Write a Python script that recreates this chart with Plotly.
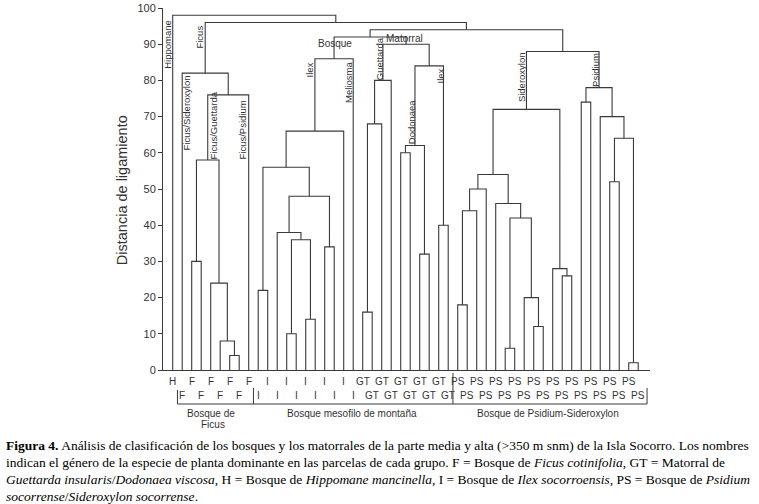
import plotly.graph_objects as go

# ---------------- data ----------------
leaf_labels = (["H"] + ["F"] * 8 + ["I"] * 11 + ["GT"] * 10 + ["PS"] * 20)

# merges: children refer to leaves "L<n>" (1-based) or earlier merges "N<k>" (1-based)
merge_left = ["L7", "N1", "L5", "L3", "N4", "N5", "L2",
              "L10", "L13", "L15", "N9", "L12", "L17", "N12", "N8", "N15", "N16",
              "L21", "N18", "N19", "L25", "L27", "N21", "L29", "N23", "N20", "N17",
              "L31", "N28", "N29", "L36", "L39", "L38", "N31", "L35", "N30", "L42", "L41", "N36",
              "L44", "L47", "L49", "N41", "L46", "N40", "N39",
              "N27", "N7", "L1"]
merge_right = ["L8", "L6", "N2", "L4", "N3", "L9", "N6",
               "L11", "L14", "L16", "N10", "N11", "L18", "N13", "N14", "L19", "L20",
               "L22", "L23", "L24", "L26", "L28", "N22", "L30", "N24", "N25", "N26",
               "L32", "L33", "L34", "L37", "L40", "N32", "N33", "N34", "N35", "L43", "N37", "N38",
               "L45", "L48", "L50", "N42", "N43", "N44", "N45",
               "N46", "N47", "N48"]
merge_height = [4, 8, 24, 30, 58, 76, 82,
                22, 10, 14, 36, 38, 34, 48, 56, 66, 86,
                16, 68, 80, 60, 32, 62, 40, 84, 90, 92,
                18, 44, 50, 6, 12, 20, 42, 46, 54, 26, 28, 72,
                74, 52, 2, 64, 70, 78, 88,
                94, 96, 98]

y_ticks = [0, 10, 20, 30, 40, 50, 60, 70, 80, 90, 100]

branch_names = ["Hippomane", "Ficus", "Ficus/Sideroxylon", "Ficus/Guettarda", "Ficus/Psidium",
                "Ilex", "Meliosma", "Guettarda", "Dodonaea", "Ilex", "Sideroxylon", "Psidium"]
branch_x = [0.5, 3.87, 2.45, 5.19, 8.35, 15.4, 19.56, 22.77, 26.14, 29.14, 37.66, 45.56]
branch_y = [90.1, 92.1, 71.0, 67.4, 66.3, 82.9, 79.3, 86.0, 68.6, 81.1, 80.9, 82.9]

flat_names = ["Bosque", "Matorral"]
flat_x = [18.08, 25.4]
flat_y = [90.2, 91.6]

group_names = ["Bosque de", "Ficus", "Bosque mesofilo de montaña", "Bosque de Psidium-Sideroxylon"]
group_x = [5.0, 5.2, 19.87, 40.5]
group_ypx = [413, 425, 413, 413]
group_bounds = [1.5, 9.5, 30.5, 50.93]

caption_lines = [
    "<b>Figura 4.</b> Análisis de clasificación de los bosques y los matorrales de la parte media y alta (&gt;350 m snm) de la Isla Socorro. Los nombres",
    "indican el género de la especie de planta dominante en las parcelas de cada grupo. F = Bosque de <i>Ficus cotinifolia</i>, GT = Matorral de",
    "<i>Guettarda insularis</i>/<i>Dodonaea viscosa</i>, H = Bosque de <i>Hippomane mancinella</i>, I = Bosque de <i>Ilex socorroensis</i>, PS = Bosque de <i>Psidium</i>",
    "<i>socorrense</i>/<i>Sideroxylon socorrense</i>.",
]

# ---------------- geometry from the tree ----------------
pos = {}
hgt = {}
for i in range(len(leaf_labels)):
    pos["L%d" % (i + 1)] = i + 1
    hgt["L%d" % (i + 1)] = 0
xs, ys = [], []
for k, (a, b, h) in enumerate(zip(merge_left, merge_right, merge_height)):
    xa, xb = pos[a], pos[b]
    xs += [xa, xa, xb, xb, None]
    ys += [hgt[a], h, h, hgt[b], None]
    name = "N%d" % (k + 1)
    pos[name] = (xa + xb) / 2
    hgt[name] = h

XMIN, XMAX = -0.021, 51.24
def px(xv):
    return (xv - XMIN) / (XMAX - XMIN)
def py(ypix):
    return (370 - ypix) / 362

LINE = "#3a3a3a"
TXT = "#333333"
FONT = "Liberation Sans, Arial, sans-serif"

fig = go.Figure()
fig.add_trace(go.Scatter(x=xs, y=ys, mode="lines", line=dict(color=LINE, width=1.1),
                         hoverinfo="skip", showlegend=False))

ann = []
C = dict(xanchor="center", yanchor="middle", showarrow=False)
for n, xv, yv in zip(branch_names, branch_x, branch_y):
    ann.append(dict(x=xv, y=yv, xref="x", yref="y", text=n, textangle=-90,
                    font=dict(family=FONT, size=9.5, color=TXT), **C))
for n, xv, yv in zip(flat_names, flat_x, flat_y):
    ann.append(dict(x=xv, y=yv, xref="x", yref="y", text=n,
                    font=dict(family=FONT, size=10, color=TXT), **C))
# leaf labels, alternating rows
for i, lab in enumerate(leaf_labels):
    row_y = py(382) if i % 2 == 0 else py(395)
    ann.append(dict(x=px(i + 1), y=row_y, xref="paper", yref="paper", text=lab,
                    font=dict(family=FONT, size=10, color=TXT), **C))
# group names
for n, xv, yp in zip(group_names, group_x, group_ypx):
    ann.append(dict(x=px(xv), y=py(yp), xref="paper", yref="paper", text=n,
                    font=dict(family=FONT, size=10, color=TXT), **C))
# y axis title
ann.append(dict(x=-0.084, y=0.497, xref="paper", yref="paper", text="Distancia de ligamiento",
                textangle=-90, font=dict(family=FONT, size=14.5, color=TXT), **C))
# caption
cap_y = [445, 462, 479, 496]
for line, yp in zip(caption_lines, cap_y):
    ann.append(dict(x=(4 - 163) / 487, y=py(yp), xref="paper", yref="paper",
                    text=line, showarrow=False, xanchor="left", yanchor="middle",
                    font=dict(family="Liberation Serif, Times New Roman, serif", size=13.5, color="black")))

shapes = []
yb = py(404)
shapes.append(dict(type="line", xref="paper", yref="paper", x0=px(group_bounds[0]), x1=px(group_bounds[-1]),
                   y0=yb, y1=yb, line=dict(color=LINE, width=1)))
tops = [py(390), py(388), py(373), py(388)]
for b, t in zip(group_bounds, tops):
    shapes.append(dict(type="line", xref="paper", yref="paper", x0=px(b), x1=px(b),
                       y0=t, y1=yb, line=dict(color=LINE, width=1)))

fig.update_layout(
    width=759, height=504,
    margin=dict(l=163, r=109, t=8, b=134, autoexpand=False),
    paper_bgcolor="white", plot_bgcolor="white",
    showlegend=False,
    annotations=ann, shapes=shapes,
    xaxis=dict(range=[XMIN, XMAX], showline=True, linecolor=LINE, linewidth=1, automargin=False,
               showticklabels=False, ticks="", showgrid=False, zeroline=False, fixedrange=True),
    yaxis=dict(range=[0, 100], tickvals=y_ticks, showline=True, linecolor=LINE, linewidth=1,
               automargin=False,
               ticks="outside", ticklen=4, tickcolor=LINE, showgrid=False, zeroline=False,
               tickfont=dict(family=FONT, size=11, color=TXT), fixedrange=True),
)

fig.write_html("out.html", config={"displayModeBar": False},
               post_script="document.body.style.margin='0';document.body.style.overflow='hidden';")
